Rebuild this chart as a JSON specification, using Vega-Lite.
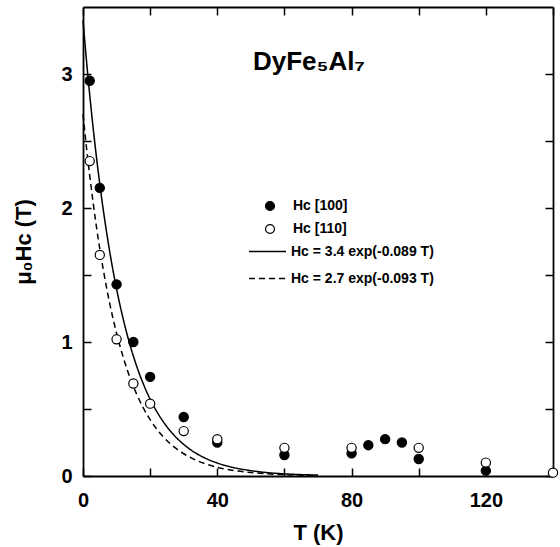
{
  "$schema": "https://vega.github.io/schema/vega-lite/v6.json",
  "width": 470,
  "height": 469,
  "autosize": "none",
  "padding": {"left": 83, "top": 7, "right": 7, "bottom": 71},
  "background": "white",
  "title": {"text": "DyFe₅Al₇", "anchor": "start", "frame": "group", "orient": "top", "baseline": "alphabetic", "offset": 0, "dx": 170, "dy": 90, "fontSize": 26, "fontWeight": "bold", "font": "Liberation Sans", "color": "black"},
  "config": {
    "view": {"stroke": null},
    "font": "Liberation Sans",
    "axis": {
      "grid": false,
      "domainColor": "black",
      "domainWidth": 1.8,
      "tickColor": "black",
      "tickWidth": 1.5,
      "labelColor": "black",
      "labelFont": "Liberation Sans",
      "labelFontSize": 20,
      "labelFontWeight": "bold",
      "labelFlush": false,
      "labelOverlap": false,
      "titleColor": "black",
      "titleFont": "Liberation Sans",
      "titleFontSize": 22,
      "titleFontWeight": "bold"
    },
    "legend": {
      "labelFont": "Liberation Sans",
      "labelFontSize": 14,
      "labelFontWeight": "bold",
      "labelColor": "black",
      "padding": 0
    }
  },
  "datasets": {
    "pts": [
      {"T": 2, "H": 2.95, "series": "Hc [100]"},
      {"T": 5, "H": 2.15, "series": "Hc [100]"},
      {"T": 10, "H": 1.43, "series": "Hc [100]"},
      {"T": 15, "H": 1.0, "series": "Hc [100]"},
      {"T": 20, "H": 0.74, "series": "Hc [100]"},
      {"T": 30, "H": 0.44, "series": "Hc [100]"},
      {"T": 40, "H": 0.25, "series": "Hc [100]"},
      {"T": 60, "H": 0.157, "series": "Hc [100]"},
      {"T": 80, "H": 0.17, "series": "Hc [100]"},
      {"T": 85, "H": 0.23, "series": "Hc [100]"},
      {"T": 90, "H": 0.275, "series": "Hc [100]"},
      {"T": 95, "H": 0.25, "series": "Hc [100]"},
      {"T": 100, "H": 0.127, "series": "Hc [100]"},
      {"T": 120, "H": 0.04, "series": "Hc [100]"},
      {"T": 2, "H": 2.35, "series": "Hc [110]"},
      {"T": 5, "H": 1.65, "series": "Hc [110]"},
      {"T": 10, "H": 1.02, "series": "Hc [110]"},
      {"T": 15, "H": 0.69, "series": "Hc [110]"},
      {"T": 20, "H": 0.54, "series": "Hc [110]"},
      {"T": 30, "H": 0.335, "series": "Hc [110]"},
      {"T": 40, "H": 0.275, "series": "Hc [110]"},
      {"T": 60, "H": 0.21, "series": "Hc [110]"},
      {"T": 80, "H": 0.21, "series": "Hc [110]"},
      {"T": 100, "H": 0.21, "series": "Hc [110]"},
      {"T": 120, "H": 0.1, "series": "Hc [110]"},
      {"T": 140, "H": 0.025, "series": "Hc [110]"}
    ],
    "fit": [
      {"T": 0, "H": 3.4, "series": "Hc = 3.4 exp(-0.089 T)"},
      {"T": 1, "H": 3.11, "series": "Hc = 3.4 exp(-0.089 T)"},
      {"T": 2, "H": 2.845, "series": "Hc = 3.4 exp(-0.089 T)"},
      {"T": 3, "H": 2.603, "series": "Hc = 3.4 exp(-0.089 T)"},
      {"T": 4, "H": 2.381, "series": "Hc = 3.4 exp(-0.089 T)"},
      {"T": 5, "H": 2.179, "series": "Hc = 3.4 exp(-0.089 T)"},
      {"T": 6, "H": 1.993, "series": "Hc = 3.4 exp(-0.089 T)"},
      {"T": 8, "H": 1.668, "series": "Hc = 3.4 exp(-0.089 T)"},
      {"T": 10, "H": 1.396, "series": "Hc = 3.4 exp(-0.089 T)"},
      {"T": 12, "H": 1.169, "series": "Hc = 3.4 exp(-0.089 T)"},
      {"T": 14, "H": 0.978, "series": "Hc = 3.4 exp(-0.089 T)"},
      {"T": 16, "H": 0.819, "series": "Hc = 3.4 exp(-0.089 T)"},
      {"T": 18, "H": 0.685, "series": "Hc = 3.4 exp(-0.089 T)"},
      {"T": 20, "H": 0.573, "series": "Hc = 3.4 exp(-0.089 T)"},
      {"T": 22, "H": 0.48, "series": "Hc = 3.4 exp(-0.089 T)"},
      {"T": 24, "H": 0.402, "series": "Hc = 3.4 exp(-0.089 T)"},
      {"T": 26, "H": 0.336, "series": "Hc = 3.4 exp(-0.089 T)"},
      {"T": 28, "H": 0.281, "series": "Hc = 3.4 exp(-0.089 T)"},
      {"T": 30, "H": 0.236, "series": "Hc = 3.4 exp(-0.089 T)"},
      {"T": 33, "H": 0.18, "series": "Hc = 3.4 exp(-0.089 T)"},
      {"T": 36, "H": 0.138, "series": "Hc = 3.4 exp(-0.089 T)"},
      {"T": 40, "H": 0.097, "series": "Hc = 3.4 exp(-0.089 T)"},
      {"T": 45, "H": 0.062, "series": "Hc = 3.4 exp(-0.089 T)"},
      {"T": 50, "H": 0.04, "series": "Hc = 3.4 exp(-0.089 T)"},
      {"T": 55, "H": 0.025, "series": "Hc = 3.4 exp(-0.089 T)"},
      {"T": 60, "H": 0.016, "series": "Hc = 3.4 exp(-0.089 T)"},
      {"T": 70, "H": 0.0067, "series": "Hc = 3.4 exp(-0.089 T)"},
      {"T": 0, "H": 2.7, "series": "Hc = 2.7 exp(-0.093 T)"},
      {"T": 1, "H": 2.46, "series": "Hc = 2.7 exp(-0.093 T)"},
      {"T": 2, "H": 2.242, "series": "Hc = 2.7 exp(-0.093 T)"},
      {"T": 3, "H": 2.043, "series": "Hc = 2.7 exp(-0.093 T)"},
      {"T": 4, "H": 1.861, "series": "Hc = 2.7 exp(-0.093 T)"},
      {"T": 5, "H": 1.696, "series": "Hc = 2.7 exp(-0.093 T)"},
      {"T": 6, "H": 1.546, "series": "Hc = 2.7 exp(-0.093 T)"},
      {"T": 8, "H": 1.283, "series": "Hc = 2.7 exp(-0.093 T)"},
      {"T": 10, "H": 1.065, "series": "Hc = 2.7 exp(-0.093 T)"},
      {"T": 12, "H": 0.885, "series": "Hc = 2.7 exp(-0.093 T)"},
      {"T": 14, "H": 0.734, "series": "Hc = 2.7 exp(-0.093 T)"},
      {"T": 16, "H": 0.61, "series": "Hc = 2.7 exp(-0.093 T)"},
      {"T": 18, "H": 0.506, "series": "Hc = 2.7 exp(-0.093 T)"},
      {"T": 20, "H": 0.42, "series": "Hc = 2.7 exp(-0.093 T)"},
      {"T": 22, "H": 0.349, "series": "Hc = 2.7 exp(-0.093 T)"},
      {"T": 24, "H": 0.29, "series": "Hc = 2.7 exp(-0.093 T)"},
      {"T": 26, "H": 0.241, "series": "Hc = 2.7 exp(-0.093 T)"},
      {"T": 28, "H": 0.2, "series": "Hc = 2.7 exp(-0.093 T)"},
      {"T": 30, "H": 0.166, "series": "Hc = 2.7 exp(-0.093 T)"},
      {"T": 33, "H": 0.126, "series": "Hc = 2.7 exp(-0.093 T)"},
      {"T": 36, "H": 0.095, "series": "Hc = 2.7 exp(-0.093 T)"},
      {"T": 40, "H": 0.065, "series": "Hc = 2.7 exp(-0.093 T)"},
      {"T": 45, "H": 0.041, "series": "Hc = 2.7 exp(-0.093 T)"},
      {"T": 50, "H": 0.026, "series": "Hc = 2.7 exp(-0.093 T)"},
      {"T": 55, "H": 0.016, "series": "Hc = 2.7 exp(-0.093 T)"},
      {"T": 60, "H": 0.01, "series": "Hc = 2.7 exp(-0.093 T)"},
      {"T": 70, "H": 0.004, "series": "Hc = 2.7 exp(-0.093 T)"}
    ]
  },
  "layer": [
    {
      "data": {"name": "fit"},
      "mark": {"type": "line", "strokeWidth": 1.5, "color": "black", "interpolate": "monotone"},
      "encoding": {
        "x": {"field": "T", "type": "quantitative", "scale": {"domain": [0, 140], "nice": false, "zero": false},
          "axis": {"orient": "bottom", "values": [0, 20, 40, 60, 80, 100, 120, 140], "labelExpr": "datum.value % 40 === 0 ? datum.label : ''", "tickSize": -8, "labelPadding": 22, "title": "T  (K)", "titlePadding": 12}},
        "y": {"field": "H", "type": "quantitative", "scale": {"domain": [0, 3.5], "nice": false, "zero": false},
          "axis": {"orient": "left", "values": [0, 0.5, 1, 1.5, 2, 2.5, 3], "labelExpr": "datum.value % 1 === 0 ? format(datum.value, 'd') : ''", "tickSize": -8, "labelPadding": 19, "title": "μ₀Hc  (T)", "titlePadding": 25}},
        "strokeDash": {"field": "series", "type": "nominal",
          "scale": {"domain": ["Hc = 3.4 exp(-0.089 T)", "Hc = 2.7 exp(-0.093 T)"], "range": [[1, 0], [6, 4]]},
          "legend": {"title": null, "orient": "none", "legendX": 165, "legendY": 225, "symbolType": "stroke", "symbolSize": 1369, "symbolStrokeWidth": 1.4, "symbolStrokeColor": "black", "labelOffset": 4, "rowPadding": -15}}
      }
    },
    {
      "data": {"name": "pts"},
      "mark": {"type": "point", "filled": true, "size": 85, "stroke": "black", "strokeWidth": 1.2, "opacity": 1},
      "encoding": {
        "x": {"field": "T", "type": "quantitative",
          "axis": {"orient": "top", "values": [0, 20, 40, 60, 80, 100, 120, 140], "labels": false, "tickSize": -8, "title": null}},
        "y": {"field": "H", "type": "quantitative",
          "axis": {"orient": "right", "values": [0, 0.5, 1, 1.5, 2, 2.5, 3], "labels": false, "tickSize": -8, "title": null}},
        "fill": {"field": "series", "type": "nominal",
          "scale": {"domain": ["Hc [100]", "Hc [110]"], "range": ["black", "white"]},
          "legend": {"title": null, "orient": "none", "legendX": 180, "legendY": 192, "symbolType": "circle", "symbolSize": 80, "symbolStrokeColor": "black", "symbolStrokeWidth": 1.2, "symbolOpacity": 1, "labelOffset": 16, "rowPadding": 9}}
      }
    }
  ],
  "resolve": {"axis": {"x": "independent", "y": "independent"}}
}
